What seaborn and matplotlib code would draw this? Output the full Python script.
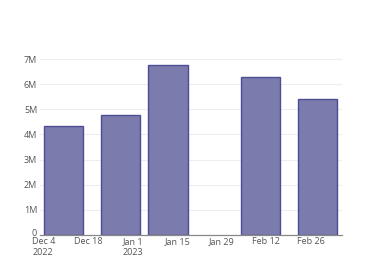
import matplotlib
matplotlib.use("Agg")
import matplotlib.pyplot as plt
import matplotlib.dates as mdates
import matplotlib.transforms as mtransforms
import seaborn as sns
import pandas as pd
import numpy as np

# Data
bar_dates = ["2022-12-10", "2022-12-28", "2023-01-12", "2023-02-10", "2023-02-28"]
bar_values = [4.35e6, 4.77e6, 6.78e6, 6.28e6, 5.43e6]
tick_dates = ["2022-12-04", "2022-12-18", "2023-01-01", "2023-01-15",
              "2023-01-29", "2023-02-12", "2023-02-26"]
tick_labels = ["Dec 4\n2022", "Dec 18", "Jan 1\n2023", "Jan 15",
               "Jan 29", "Feb 12", "Feb 26"]
y_ticks = [0, 1e6, 2e6, 3e6, 4e6, 5e6, 6e6, 7e6]
y_labels = ["0", "1M", "2M", "3M", "4M", "5M", "6M", "7M"]

sns.set_theme(style="white")
plt.rcParams["font.family"] = ["Open Sans", "DejaVu Sans"]

df = pd.DataFrame({
    "x": mdates.date2num(pd.to_datetime(bar_dates)),
    "value": bar_values,
})

fig = plt.figure(figsize=(3.8, 2.8), dpi=100)
ax = fig.add_axes([40 / 380, 1 - 235 / 280, (342 - 40) / 380, (235 - 55.3) / 280])

# bar width in days, expressed as fraction of the smallest spacing
min_gap = np.min(np.diff(np.sort(df["x"].values)))
bar_days = 12.3
sns.barplot(data=df, x="x", y="value", native_scale=True, width=bar_days / min_gap,
            color="#7b7bad", saturation=1, edgecolor="#4d4d96", linewidth=1,
            ax=ax)

t0 = mdates.date2num(pd.Timestamp("2022-12-04"))
ax.set_xlim(t0 - 1.3, t0 + 93.8)
ax.set_ylim(0, 7.15e6)

ax.set_xticks(mdates.date2num(pd.to_datetime(tick_dates)))
ax.set_xticklabels(tick_labels, ha="center", linespacing=1.3)
ax.set_yticks(y_ticks)
ax.set_yticklabels(y_labels)
ax.tick_params(axis="both", length=0, labelsize=6.5, colors="#555555")
ax.tick_params(axis="x", pad=1.5)
ax.tick_params(axis="y", pad=2)
for lbl in ax.get_xticklabels():
    lbl.set_multialignment("left")
# the zero label sits just above the axis line
zero_lbl = ax.get_yticklabels()[0]
zero_lbl.set_transform(zero_lbl.get_transform() +
                       mtransforms.ScaledTranslation(0, 3 / 100, fig.dpi_scale_trans))

ax.set_xlabel("")
ax.set_ylabel("")
ax.grid(axis="y", color="#eeeeee", linewidth=0.8)
ax.set_axisbelow(True)
for s in ["top", "right", "left"]:
    ax.spines[s].set_visible(False)
ax.spines["bottom"].set_color("#888888")
ax.spines["bottom"].set_linewidth(0.9)

fig.savefig("out.png", dpi=100)
